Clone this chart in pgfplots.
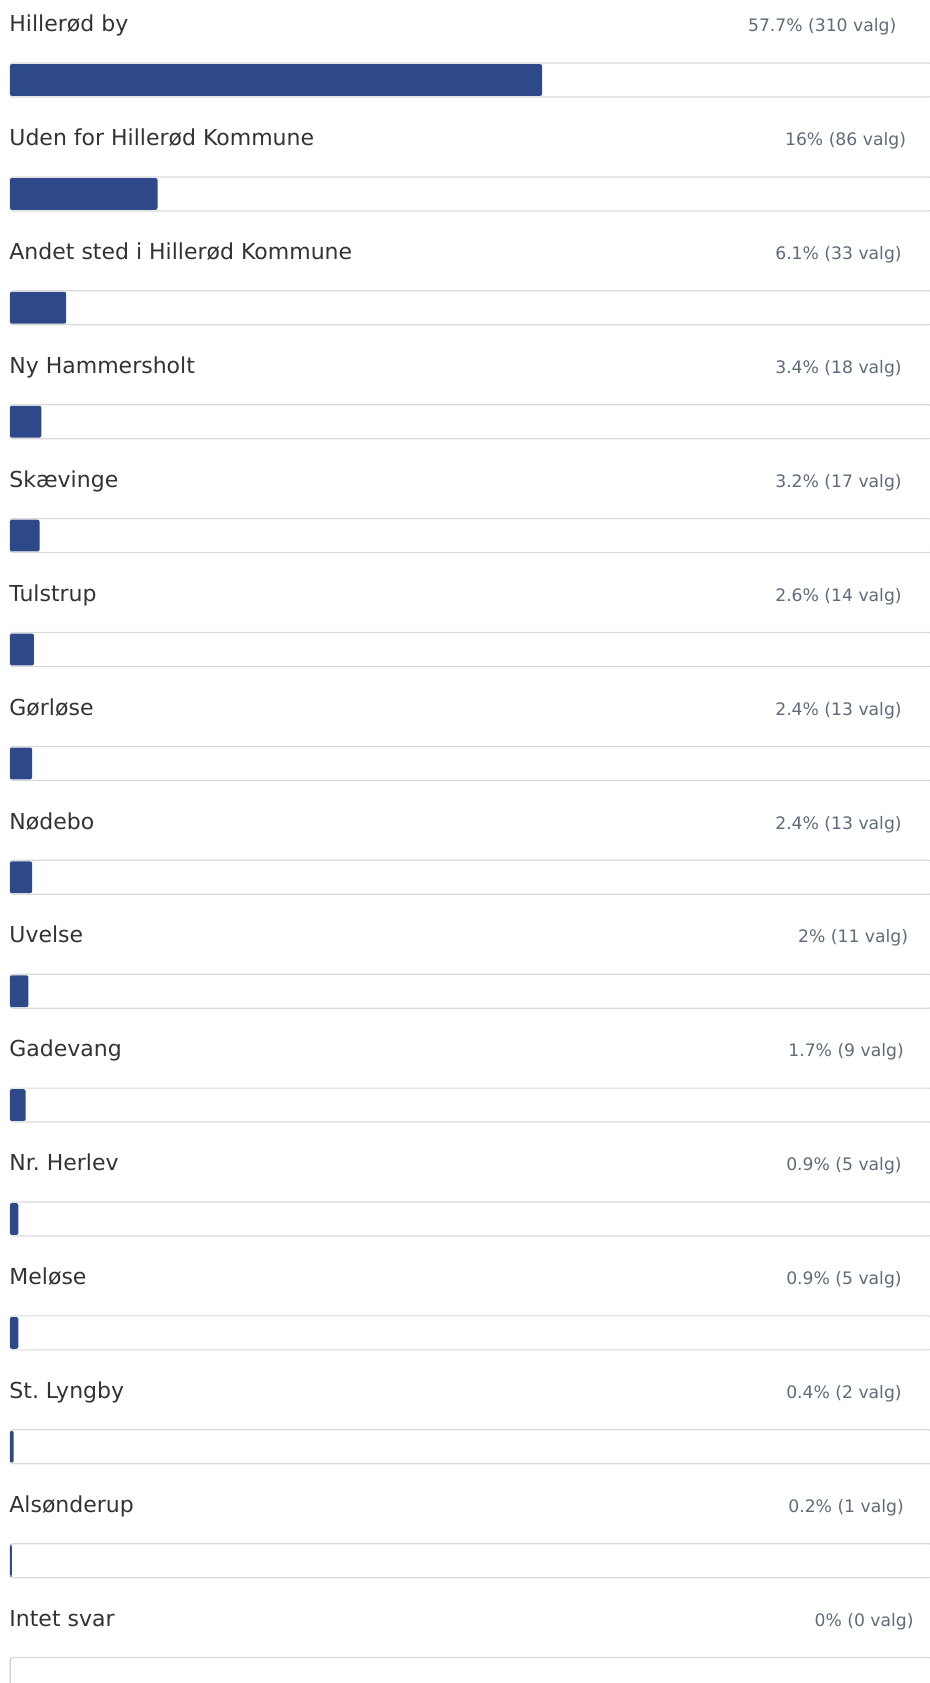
\documentclass[border=0pt]{standalone}
\usepackage{pgfplots}
\pgfplotsset{compat=1.18}
\usepackage{pgfplotstable}
\usepackage{fontspec}
\setmainfont{DejaVu Sans}
\frenchspacing
\definecolor{barblue}{RGB}{45,73,138}
\definecolor{boxgray}{RGB}{218,218,218}
\definecolor{labtext}{RGB}{51,51,51}
\definecolor{valtext}{RGB}{95,107,122}

\pgfplotstableread{
row pct full
1 57.7 100
2 16.0 100
3 6.1 100
4 3.4 100
5 3.2 100
6 2.6 100
7 2.4 100
8 2.4 100
9 2.0 100
10 1.7 100
11 0.9 100
12 0.9 100
13 0.4 100
14 0.2 100
15 0.0 100
}\data

\newcommand{\lab}[2]{\node[anchor=base west, inner sep=0pt, text=labtext, font=\fontsize{11}{13}\selectfont] at (axis cs:-0.108,#1-0.424) {#2};}
\newcommand{\val}[3]{\node[anchor=base east, inner sep=0pt, text=valtext, font=\fontsize{8.6}{10}\selectfont] at (axis cs:#2,#1-0.424) {#3};}

\begin{document}
\begin{tikzpicture}
\begin{axis}[
  scale only axis,
  width=465pt, height=841.5pt,
  xmin=-1.085, xmax=99.78,
  ymin=0.2976, ymax=15.074,
  y dir=reverse,
  axis lines=none,
  xtick=\empty, ytick=\empty,
  xbar,
  clip=true,
]
\addplot[xbar, bar shift=0pt, bar width=0.2985, fill=white, draw=boxgray, line width=0.6pt, rounded corners=1.5pt] table[x=full, y=row] {\data};
\addplot[xbar, bar shift=0pt, bar width=0.279, fill=barblue, draw=none, rounded corners=1pt] table[x=pct, y=row] {\data};

\lab{1}{Hillerød by}
\lab{2}{Uden for Hillerød Kommune}
\lab{3}{Andet sted i Hillerød Kommune}
\lab{4}{Ny\ Hammersholt}
\lab{5}{Skævinge}
\lab{6}{Tulstrup}
\lab{7}{Gørløse}
\lab{8}{Nødebo}
\lab{9}{Uvelse}
\lab{10}{Gadevang}
\lab{11}{Nr. Herlev}
\lab{12}{Meløse}
\lab{13}{St. Lyngby}
\lab{14}{Alsønderup}
\lab{15}{Intet svar}

\val{1}{96.17}{57.7\% (310 valg)}
\val{2}{97.22}{16\% (86 valg)}
\val{3}{96.75}{6.1\% (33 valg)}
\val{4}{96.75}{3.4\% (18 valg)}
\val{5}{96.75}{3.2\% (17 valg)}
\val{6}{96.75}{2.6\% (14 valg)}
\val{7}{96.75}{2.4\% (13 valg)}
\val{8}{96.75}{2.4\% (13 valg)}
\val{9}{97.45}{2\% (11 valg)}
\val{10}{96.98}{1.7\% (9 valg)}
\val{11}{96.75}{0.9\%\ (5\ valg)}
\val{12}{96.75}{0.9\% (5 valg)}
\val{13}{96.75}{0.4\%\ (2\ valg)}
\val{14}{96.98}{0.2\% (1 valg)}
\val{15}{98.04}{0\% (0 valg)}
\end{axis}
\pgfresetboundingbox
\useasboundingbox (current axis.south west) rectangle (current axis.north east);
\end{tikzpicture}
\end{document}
